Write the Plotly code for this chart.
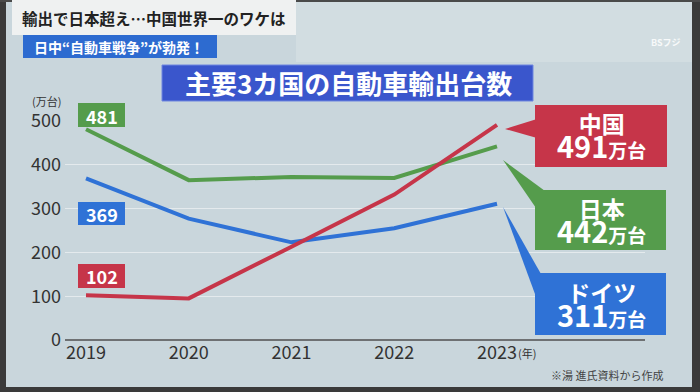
import plotly.graph_objects as go

years = [2019, 2020, 2021, 2022, 2023]
japan = [481, 365, 372, 370, 442]
germany = [369, 277, 223, 255, 311]
china = [102, 95, 213, 332, 491]
ytick_vals = [0, 100, 200, 300, 400, 500]
xtick_labels = ["2019", "2020", "2021", "2022", "2023"]

W, H = 700, 392
L, R, T, B = 65, 645, 121, 340
FONT = "Noto Sans CJK JP"

GREEN = "#559c4c"
BLUE = "#2f72d6"
RED = "#c63549"
BG = "#c9d6dc"


def px(x):
    return (x - L) / (R - L)


def py(y):
    return (B - y) / (B - T)


fig = go.Figure()
for name, vals, col in [("日本", japan, GREEN), ("ドイツ", germany, BLUE), ("中国", china, RED)]:
    fig.add_trace(go.Scatter(x=years, y=vals, mode="lines", name=name,
                             line=dict(color=col, width=4), hoverinfo="skip"))

shapes = []
annotations = []


def rect(x0, y0, x1, y1, color, line=None, layer="above"):
    shapes.append(dict(type="rect", xref="paper", yref="paper", x0=px(x0), x1=px(x1),
                       y0=py(y1), y1=py(y0), fillcolor=color, line=dict(width=0) if line is None else line,
                       layer=layer))


def poly(pts, color):
    path = "M " + " L ".join(f"{px(a)},{py(b)}" for a, b in pts) + " Z"
    shapes.append(dict(type="path", xref="paper", yref="paper", path=path, fillcolor=color,
                       line=dict(width=0), layer="above"))


def text(x, y, s, size, color="white", bold=True, xanchor="center"):
    annotations.append(dict(x=px(x), y=py(y), xref="paper", yref="paper", text=f"<b>{s}</b>" if bold else s,
                            showarrow=False, xanchor=xanchor, yanchor="middle",
                            font=dict(family=FONT, size=size, color=color)))


def callout(x, y, name, value):
    s = (f"<span style='font-size:23px'>{name}</span><br>"
         f"<span style='font-size:29px'>{value}</span><span style='font-size:19px'>万台</span>")
    text(x, y, s, 19)


# background tint near the top (studio wall)
rect(296, 2, 692, 62, "#d2dde1", layer="below")

# TV frame
rect(0, 0, 6, H, "#3a3a3a")
rect(692, 0, W, H, "#3a3a3a")
rect(0, 387, W, H, "#3a3a3a")
rect(0, 0, W, 2, "#4a4a4a")

# header
rect(12, 0, 296, 35, "#eff1f1")
text(154, 18, "輸出で日本超え…中国世界一のワケは", 15.5, "#222222")
rect(23, 35, 217, 58, "#2d6bd0")
text(119, 47, "日中“自動車戦争”が勃発！", 14, "white")
text(666, 43, "BSフジ", 9, "rgba(255,255,255,0.85)")

# title
rect(162, 65, 533, 101, "#3a56cc", line=dict(color="#6f86e0", width=1))
text(348, 83, "主要3カ国の自動車輸出台数", 26)

# small value labels
rect(78, 103, 125, 127, GREEN)
text(101.5, 115.5, str(japan[0]), 18)
rect(78, 202, 125, 225, BLUE)
text(101.5, 213.5, str(germany[0]), 18)
rect(78, 264, 125, 288, RED)
text(101.5, 276, str(china[0]), 18)

# callouts
poly([(505, 129), (537, 119), (537, 138)], RED)
rect(535, 105, 667, 167, RED)
callout(601, 136, "中国", china[-1])

poly([(503, 160), (545, 191), (536, 208)], GREEN)
rect(535, 190, 666, 250, GREEN)
callout(601, 221, "日本", japan[-1])

poly([(503, 207), (541, 274), (535, 294)], BLUE)
rect(535, 273, 666, 335, BLUE)
callout(601, 305, "ドイツ", germany[-1])

# units & source
text(46, 101, "(万台)", 11, "#333333", bold=False)
text(527, 353, "(年)", 11, "#333333", bold=False)
text(607, 375, "※湯 進氏資料から作成", 11, "#444444", bold=False)

fig.update_layout(
    width=W, height=H,
    margin=dict(l=L, r=W - R, t=T, b=H - B, pad=0),
    paper_bgcolor=BG, plot_bgcolor=BG,
    showlegend=False,
    shapes=shapes, annotations=annotations,
    xaxis=dict(range=[2019 - 21 / 102.75, 2023 + 148 / 102.75], tickvals=years, ticktext=xtick_labels,
               showgrid=False, zeroline=False, showline=False, ticks="",
               tickfont=dict(family=FONT, size=18, color="#333333")),
    yaxis=dict(range=[0, 500], tickvals=ytick_vals, showgrid=True, gridcolor="#e4eaed", gridwidth=1,
               zeroline=True, zerolinecolor="#6e7173", zerolinewidth=2, showline=False, ticks="",
               ticklabelstandoff=3,
               tickfont=dict(family=FONT, size=18, color="#333333")),
)

fig.write_html("out.html", config={"displayModeBar": False},
               post_script="document.body.style.margin='0';document.body.style.overflow='hidden';")
